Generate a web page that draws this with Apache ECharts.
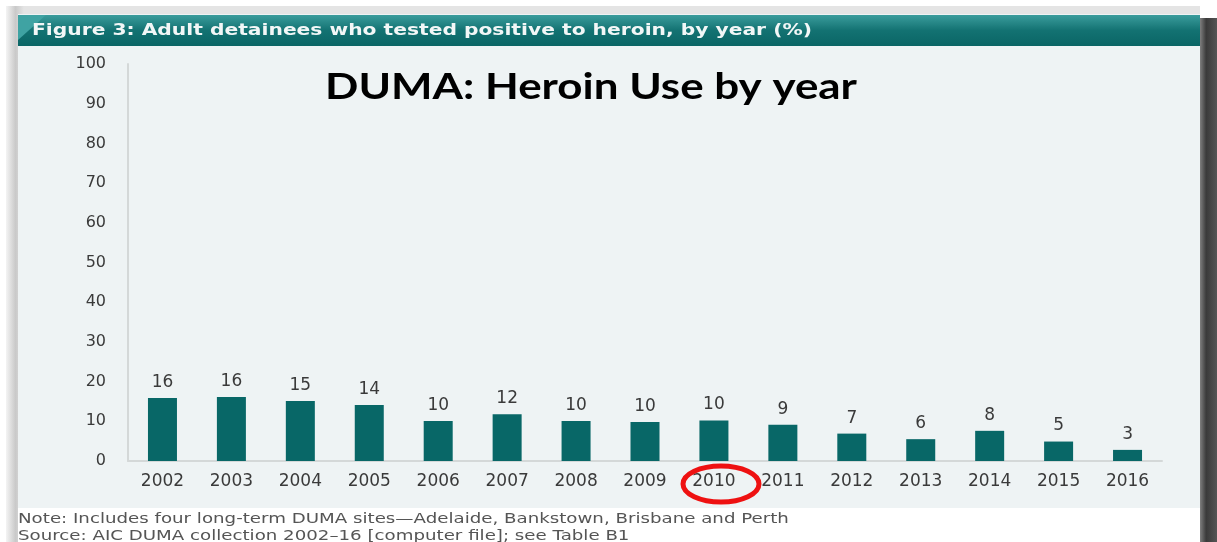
<!DOCTYPE html>
<html><head><meta charset="utf-8">
<script src="https://cdn.jsdelivr.net/npm/echarts@6/dist/echarts.min.js"></script>
<style>html,body{margin:0;padding:0;background:#fff}#c{width:1217px;height:542px}</style>
</head><body><div id="c"></div>
<script>
const years = ['2002','2003','2004','2005','2006','2007','2008','2009','2010','2011','2012','2013','2014','2015','2016'];
const heroinPct = [15.9,16.1,15.1,14.1,10.1,11.8,10.1,9.8,10.2,9.1,6.9,5.5,7.6,4.9,2.8];
const labelPct = [16,16,15,14,10,12,10,10,10,9,7,6,8,5,3];
const yTicks = [0,100,10];

const chart = echarts.init(document.getElementById('c'));
chart.setOption({
  animation:false,
  backgroundColor:'#ffffff',
  graphic:[
    {type:'rect',z:-10,shape:{x:6,y:6,width:1194,height:540},style:{fill:new echarts.graphic.LinearGradient(0,0,1,0,[{offset:0,color:'#f4f4f4'},{offset:0.008,color:'#c9c9c9'},{offset:0.015,color:'#e4e4e4'},{offset:1,color:'#e4e4e4'}])}},
    {type:'rect',z:-9,shape:{x:1199,y:18,width:18,height:524},style:{fill:new echarts.graphic.LinearGradient(0,0,1,0,[{offset:0,color:'#8a8a8a'},{offset:0.4,color:'#3a3a3a'},{offset:1,color:'#555'}])}},
    {type:'rect',z:-8,shape:{x:18,y:14,width:1182,height:500},style:{fill:'#eef3f4'}},
    {type:'rect',z:-7,shape:{x:18,y:508,width:1182,height:34},style:{fill:'#ffffff'}},
    {type:'rect',z:-6,shape:{x:18,y:15,width:1182,height:31},style:{fill:new echarts.graphic.LinearGradient(0,0,0,1,[{offset:0,color:'#3a9c9c'},{offset:0.5,color:'#137272'},{offset:1,color:'#0a6565'}])}},
    {type:'polygon',z:-5,shape:{points:[[18,15],[46,15],[18,40]]},style:{fill:'#3fa3a3'}},
    {type:'text',z:5,x:32,y:31,scaleX:1.35,style:{text:'Figure 3: Adult detainees who tested positive to heroin, by year (%)',fill:'#f2f7f7',font:'bold 15px "DejaVu Sans"',verticalAlign:'middle'}},
    {type:'text',z:5,x:18,y:519,scaleX:1.3,style:{text:'Note: Includes four long-term DUMA sites\u2014Adelaide, Bankstown, Brisbane and Perth',fill:'#555',font:'14px "DejaVu Sans"',verticalAlign:'middle'}},
    {type:'text',z:5,x:18,y:536,scaleX:1.3,style:{text:'Source: AIC DUMA collection 2002\u201316 [computer file]; see Table B1',fill:'#555',font:'14px "DejaVu Sans"',verticalAlign:'middle'}},
    {type:'text',z:5,x:591,y:87,scaleX:1.22,style:{text:'DUMA: Heroin Use by year',fill:'#000',font:'bold 36px Lato',align:'center',verticalAlign:'middle'}},
    {type:'ellipse',z:10,shape:{cx:721,cy:484,rx:38,ry:18},style:{fill:'none',stroke:'#ee1111',lineWidth:5}}
  ],
  grid:{left:128,right:55,top:64,bottom:81,containLabel:false},
  xAxis:{type:'category',data:years,
    axisLine:{lineStyle:{color:'#d4d8d8',width:2}},axisTick:{show:false},
    axisLabel:{color:'#3a3a3a',fontFamily:'DejaVu Sans',fontSize:17,margin:12}},
  yAxis:{type:'value',min:yTicks[0],max:yTicks[1],interval:yTicks[2],
    axisLine:{show:true,lineStyle:{color:'#d4d8d8',width:2}},axisTick:{show:false},splitLine:{show:false},
    axisLabel:{color:'#3a3a3a',fontFamily:'DejaVu Sans',fontSize:16,margin:22}},
  series:[{type:'bar',data:heroinPct,barWidth:29,itemStyle:{color:'#086767'},
    label:{show:true,position:'top',distance:7,color:'#3a3a3a',fontFamily:'DejaVu Sans',fontSize:17,
      formatter:p=>labelPct[p.dataIndex]}}]
});
</script></body></html>
